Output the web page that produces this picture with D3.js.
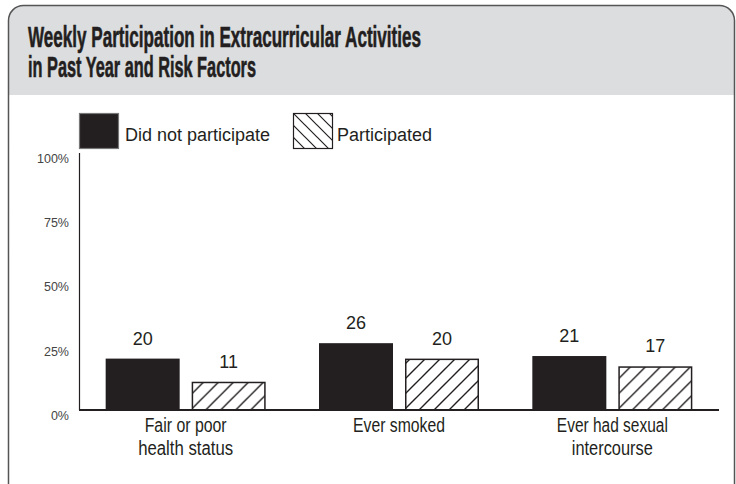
<!DOCTYPE html>
<html>
<head>
<meta charset="utf-8">
<script src="https://cdn.jsdelivr.net/npm/d3@7"></script>
<style>
  html, body { margin: 0; padding: 0; background: #fff; }
  svg { display: block; }
</style>
</head>
<body>
<svg id="chart" width="736" height="484"></svg>
<script>
// Chart data
const titleLines = ["Weekly Participation in Extracurricular Activities", "in Past Year and Risk Factors"];
const categories = ["Fair or poor health status", "Ever smoked", "Ever had sexual intercourse"];
const categoryLines = [["Fair or poor", "health status"], ["Ever smoked"], ["Ever had sexual", "intercourse"]];
const seriesNames = ["Did not participate", "Participated"];
const didNotParticipate = [20, 26, 21];
const participated = [11, 20, 17];
const yTicks = [0, 25, 50, 75, 100];

const ink = "#231f20";
const svg = d3.select("#chart");
const defs = svg.append("defs");

// Frame with rounded corners and grey header band
const frame = { x: 8.5, y: 5.5, w: 726, h: 500, r: 15 };
defs.append("clipPath").attr("id", "frameClip")
  .append("rect").attr("x", frame.x).attr("y", frame.y)
  .attr("width", frame.w).attr("height", frame.h).attr("rx", frame.r);

svg.append("rect").attr("x", frame.x).attr("y", frame.y)
  .attr("width", frame.w).attr("height", frame.h).attr("rx", frame.r)
  .attr("fill", "#fff");
svg.append("rect").attr("clip-path", "url(#frameClip)")
  .attr("x", 0).attr("y", 0).attr("width", 736).attr("height", 95)
  .attr("fill", "#dcdddf");
svg.append("rect").attr("x", frame.x).attr("y", frame.y)
  .attr("width", frame.w).attr("height", frame.h).attr("rx", frame.r)
  .attr("fill", "none").attr("stroke", "#555").attr("stroke-width", 1.5);

// Condensed text: squeeze a regular face to the given width
const condensed = "'Liberation Sans', Arial, sans-serif";

// Title
const titleWidths = [393, 228];
svg.append("g").selectAll("text").data(titleLines).join("text")
  .attr("x", 28).attr("y", (d, i) => 47 + i * 30)
  .attr("font-family", condensed)
  .attr("font-weight", "bold").attr("font-size", 29.5).attr("fill", ink)
  .attr("stroke", ink).attr("stroke-width", 0.6)
  .attr("textLength", (d, i) => titleWidths[i])
  .attr("lengthAdjust", "spacingAndGlyphs")
  .text(d => d);

// Hatch patterns
defs.append("pattern").attr("id", "hatchBar")
  .attr("patternUnits", "userSpaceOnUse").attr("width", 15).attr("height", 15)
  .append("path").attr("d", "M-4,4 L4,-4 M0,15 L15,0 M11,19 L19,11")
  .attr("stroke", ink).attr("stroke-width", 1.4);
defs.append("pattern").attr("id", "hatchKey")
  .attr("patternUnits", "userSpaceOnUse").attr("width", 12).attr("height", 12)
  .attr("x", 293).attr("y", 113)
  .append("path").attr("d", "M-3,9 L3,15 M0,0 L12,12 M9,-3 L15,3")
  .attr("stroke", ink).attr("stroke-width", 1.2);

// Scales
const x0 = d3.scaleBand().domain(categories).range([79, 719])
  .paddingInner(0.25).paddingOuter(0.125);
const x1 = d3.scaleBand().domain(seriesNames).range([0, x0.bandwidth()])
  .paddingInner(12 / 86);
const y = d3.scaleLinear().domain([0, 100]).range([410, 153]);

// Y axis: labels only, plus a vertical rule
const yAxis = d3.axisLeft(y).tickValues(yTicks).tickSize(0).tickPadding(0)
  .tickFormat(d => d + "%");
const gy = svg.append("g").attr("transform", "translate(69,0)").call(yAxis);
gy.select(".domain").remove();
gy.selectAll("text")
  .attr("font-family", "'Liberation Sans', Arial, sans-serif")
  .attr("font-size", 12.5).attr("fill", "#444")
  .attr("dy", "0.75em").attr("y", 0);
svg.append("line").attr("x1", 79.5).attr("x2", 79.5)
  .attr("y1", y(100)).attr("y2", y(0))
  .attr("stroke", ink).attr("stroke-width", 1.2);

// Bars
const rows = categories.map((c, i) => ({
  cat: c,
  values: [
    { s: seriesNames[0], v: didNotParticipate[i] },
    { s: seriesNames[1], v: participated[i] }
  ]
}));

const groups = svg.append("g").selectAll("g").data(rows).join("g")
  .attr("transform", d => `translate(${x0(d.cat)},0)`);

groups.selectAll("rect").data(d => d.values).join("rect")
  .attr("x", d => x1(d.s) + (d.s === seriesNames[1] ? 0.75 : 0))
  .attr("width", d => x1.bandwidth() - (d.s === seriesNames[1] ? 1.5 : 0))
  .attr("y", d => y(d.v) + (d.s === seriesNames[1] ? 0.75 : 0))
  .attr("height", d => y(0) - y(d.v) - (d.s === seriesNames[1] ? 0.75 : 0))
  .attr("fill", d => d.s === seriesNames[0] ? ink : "url(#hatchBar)")
  .attr("stroke", d => d.s === seriesNames[0] ? "none" : ink)
  .attr("stroke-width", 1.5);

// Value labels
groups.selectAll("text.val").data(d => d.values).join("text")
  .attr("class", "val")
  .attr("x", d => x1(d.s) + x1.bandwidth() / 2)
  .attr("y", d => y(d.v) - 14)
  .attr("text-anchor", "middle")
  .attr("font-family", "'Liberation Sans', Arial, sans-serif")
  .attr("font-size", 18).attr("fill", ink)
  .text(d => d.v);

// Baseline
svg.append("line").attr("x1", 79).attr("x2", 719)
  .attr("y1", y(0)).attr("y2", y(0))
  .attr("stroke", ink).attr("stroke-width", 2.2);

// Category labels, one text per line, squeezed to a condensed width
const lineWidths = [[82, 95], [92], [111, 81]];
const catLines = [];
categories.forEach((c, i) => categoryLines[i].forEach((t, j) =>
  catLines.push({ cat: c, text: t, row: j, width: lineWidths[i][j] })));
svg.append("g").selectAll("text").data(catLines).join("text")
  .attr("x", d => x0(d.cat) + x0.bandwidth() / 2)
  .attr("y", d => 432 + d.row * 23)
  .attr("text-anchor", "middle")
  .attr("font-family", condensed)
  .attr("font-size", 20).attr("fill", ink)
  .attr("textLength", d => d.width)
  .attr("lengthAdjust", "spacingAndGlyphs")
  .text(d => d.text);

// Legend
const legend = svg.append("g");
const keyX = [79, 293];
const textX = [125, 337];
legend.selectAll("rect").data(seriesNames).join("rect")
  .attr("x", (d, i) => keyX[i] + 0.5).attr("y", 113.5)
  .attr("width", 39).attr("height", 35)
  .attr("fill", (d, i) => i === 0 ? ink : "url(#hatchKey)")
  .attr("stroke", (d, i) => i === 0 ? "#777" : ink)
  .attr("stroke-width", 1.2);
legend.selectAll("text").data(seriesNames).join("text")
  .attr("x", (d, i) => textX[i]).attr("y", 141)
  .attr("font-family", "'Liberation Sans', Arial, sans-serif")
  .attr("font-size", 18).attr("fill", ink)
  .text(d => d);
</script>
</body>
</html>
